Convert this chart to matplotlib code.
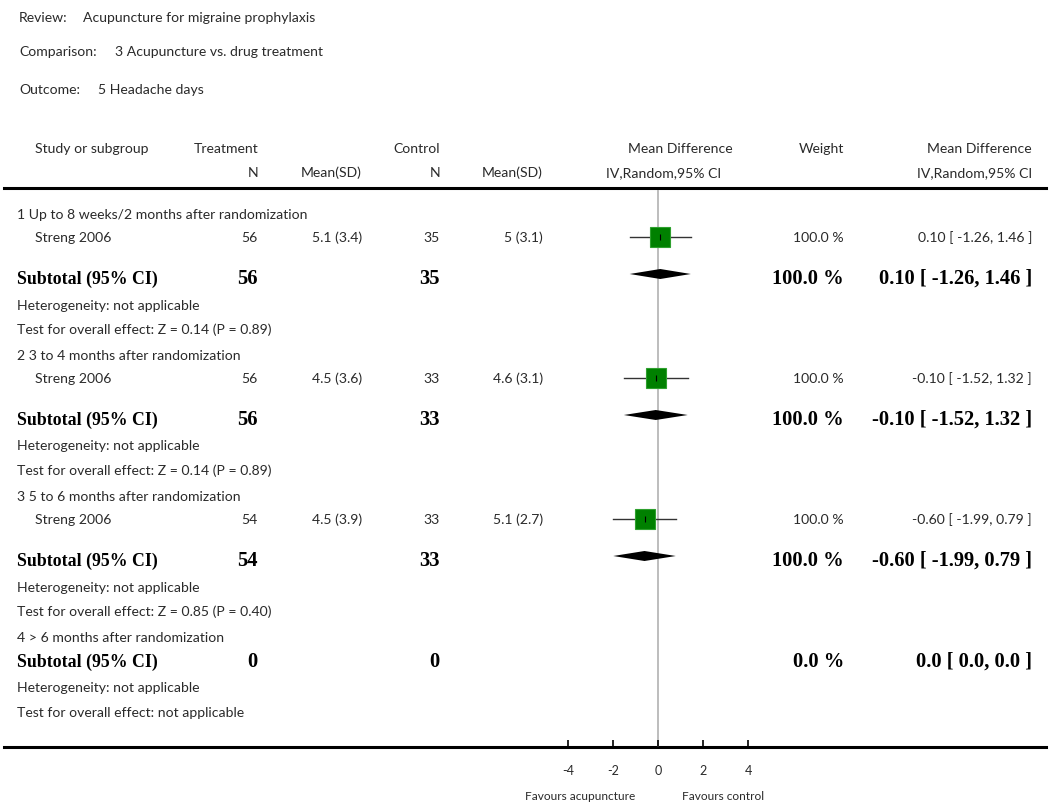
import matplotlib
matplotlib.use('Agg')
import matplotlib.pyplot as plt

# Data
groups = ['1 Up to 8 weeks/2 months after randomization',
          '2 3 to 4 months after randomization',
          '3 5 to 6 months after randomization',
          '4 > 6 months after randomization']
study = ['Streng 2006', 'Streng 2006', 'Streng 2006', None]
treat_n = [56, 56, 54, 0]
treat_msd = ['5.1 (3.4)', '4.5 (3.6)', '4.5 (3.9)', None]
ctrl_n = [35, 33, 33, 0]
ctrl_msd = ['5 (3.1)', '4.6 (3.1)', '5.1 (2.7)', None]
md = [0.10, -0.10, -0.60, None]
ci_lo = [-1.26, -1.52, -1.99, None]
ci_hi = [1.46, 1.32, 0.79, None]
weight = ['100.0 %', '100.0 %', '100.0 %', '0.0 %']
md_text = ['0.10 [ -1.26, 1.46 ]', '-0.10 [ -1.52, 1.32 ]',
           '-0.60 [ -1.99, 0.79 ]', '0.0 [ 0.0, 0.0 ]']
overall_test = ['Z = 0.14 (P = 0.89)', 'Z = 0.14 (P = 0.89)',
                'Z = 0.85 (P = 0.40)', 'not applicable']
xticks = [-4, -2, 0, 2, 4]

W, H = 1050, 810
SANS = 'Lato'
SERIF = 'Liberation Serif'
TXT = '#2a2a2a'
fs = 10.1
bfs = 12.8      # bold labels
nfs = 14.8      # bold numbers
sfs = 8.6       # axis captions

fig = plt.figure(figsize=(W / 100, H / 100), dpi=100)
ax = fig.add_axes([0, 0, 1, 1])
ax.set_xlim(0, W)
ax.set_ylim(H, 0)
ax.axis('off')


def t(x, y, s, ha='left', size=None):
    ax.text(x, y + 2, s, ha=ha, va='center', fontsize=size or fs,
            family=SANS, color=TXT)


def tb(x, y, s, ha='left', size=bfs):
    ax.text(x, y + 1, s, ha=ha, va='center', fontsize=size, family=SERIF,
            weight='bold', color='black')


# title block
t(19, 16, 'Review:')
t(83, 16, 'Acupuncture for migraine prophylaxis')
t(19, 50, 'Comparison:')
t(115, 50, '3 Acupuncture vs. drug treatment')
t(19, 88, 'Outcome:')
t(98, 88, '5 Headache days')

# header
hy1, hy2 = 147, 171
t(35, hy1, 'Study or subgroup')
t(258, hy1, 'Treatment', 'right')
t(440, hy1, 'Control', 'right')
t(733, hy1, 'Mean Difference', 'right')
t(844, hy1, 'Weight', 'right')
t(1032, hy1, 'Mean Difference', 'right')
t(258, hy2, 'N', 'right')
t(362, hy2, 'Mean(SD)', 'right')
t(440, hy2, 'N', 'right')
t(543, hy2, 'Mean(SD)', 'right')
t(721, hy2, 'IV,Random,95% CI', 'right')
t(1032, hy2, 'IV,Random,95% CI', 'right')
ax.plot([4, 1046], [188, 188], color='black', lw=2.2)
ax.plot([4, 1046], [747, 747], color='black', lw=2.2)

# forest panel: x in mean-difference units, y in pixel rows
x0, x4 = 568, 748
top, bot = 190, 747
fax = fig.add_axes([x0 / W, 1 - bot / H, (x4 - x0) / W, (bot - top) / H])
fax.set_xlim(-4, 4)
fax.set_ylim(bot, top)
fax.patch.set_alpha(0)
for sp in fax.spines.values():
    sp.set_visible(False)
fax.set_yticks([])
fax.set_xticks(xticks)
fax.set_xticklabels([str(v) for v in xticks], family=SANS, fontsize=9,
                    color=TXT)
fax.tick_params(axis='x', direction='in', length=5, width=1.2, pad=13)
fax.axvline(0, color='#b8b8b8', lw=1.3, zorder=0)

t(635, 794, 'Favours acupuncture', 'right', size=sfs)
t(682, 794, 'Favours control', size=sfs)

# rows (y = visual centre of each row, pixels from top)
y = 213
for i in range(len(groups)):
    t(17, y, groups[i])
    if study[i] is not None:
        y += 23
        t(35, y, study[i])
        t(258, y, str(treat_n[i]), 'right')
        t(362, y, treat_msd[i], 'right')
        t(440, y, str(ctrl_n[i]), 'right')
        t(543, y, ctrl_msd[i], 'right')
        t(844, y, weight[i], 'right')
        t(1032, y, md_text[i], 'right')
        sy = y + 1
        fax.plot([ci_lo[i], ci_hi[i]], [sy, sy], color='#333333', lw=1.0,
                 clip_on=False, zorder=2)
        fax.plot([md[i]], [sy], marker='s', ms=13.8, color='#008000',
                 mec='#2ea02e', mew=0.8, clip_on=False, zorder=3)
        fax.plot([md[i]], [sy], marker='|', ms=4, color='black', mew=0.8,
                 clip_on=False, zorder=4)
        y += 42
        dy = y - 4
        fax.fill([ci_lo[i], md[i], ci_hi[i], md[i]],
                 [dy, dy - 5, dy, dy + 5], color='black', lw=0,
                 clip_on=False, zorder=3)
    else:
        y += 25
    tb(17, y, 'Subtotal (95% CI)')
    tb(258, y, str(treat_n[i]), 'right', nfs)
    tb(440, y, str(ctrl_n[i]), 'right', nfs)
    tb(844, y, weight[i], 'right', nfs)
    tb(1032, y, md_text[i], 'right', nfs)
    y += 25.5
    t(17, y, 'Heterogeneity: not applicable')
    y += 24.5
    t(17, y, 'Test for overall effect: ' + overall_test[i])
    y += 26

fig.savefig('out.png', dpi=100)
